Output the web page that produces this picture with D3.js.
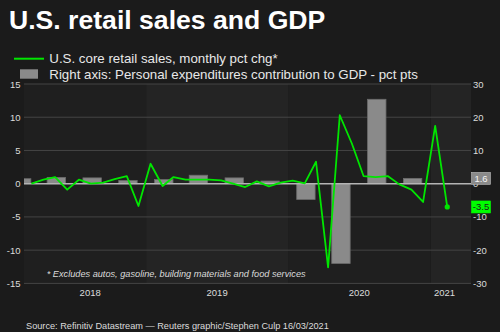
<!DOCTYPE html>
<html>
<head>
<meta charset="utf-8">
<script src="https://cdn.jsdelivr.net/npm/d3@7"></script>
<style>
  body { margin: 0; background: #1b1b1b; }
  svg { display: block; font-family: "Liberation Sans", Arial, sans-serif; }
</style>
</head>
<body>
<script>
// Chart data
var retailMonths = ["2018-03", "2018-04", "2018-05", "2018-06", "2018-07", "2018-08", "2018-09", "2018-10", "2018-11", "2018-12",
  "2019-01", "2019-02", "2019-03", "2019-04", "2019-05", "2019-06", "2019-07", "2019-08", "2019-09", "2019-10", "2019-11", "2019-12",
  "2020-01", "2020-02", "2020-03", "2020-04", "2020-05", "2020-06", "2020-07", "2020-08", "2020-09", "2020-10", "2020-11", "2020-12",
  "2021-01", "2021-02"];
var retailChange = [0.0, 0.6, 1.0, -0.9, 0.6, 0.0, 0.15, 0.7, 1.15, -3.35,
  3.0, -0.35, 1.0, 0.6, 0.6, 0.6, 0.5, 0.0, -0.5, 0.35, -0.4, 0.15,
  0.45, 0.05, 3.3, -12.6, 10.3, 6.05, 1.15, 1.0, 1.15, -0.1, -0.9, -2.75,
  8.7, -3.5];

var gdpQuarters = ["2018-Q1", "2018-Q2", "2018-Q3", "2018-Q4", "2019-Q1", "2019-Q2", "2019-Q3", "2019-Q4",
  "2020-Q1", "2020-Q2", "2020-Q3", "2020-Q4"];
var pceContribution = [1.5, 1.9, 1.75, 0.95, 1.25, 2.55, 1.75, 0.8, -4.75, -24.0, 25.4, 1.6];

var years = [2018, 2019, 2020, 2021];
var yearLabelDates = ["2018-08-10", "2019-07-02", "2020-07-01", "2021-02-05"];
var leftTicks = [15, 10, 5, 0, -5, -10, -15];
var rightTicks = [30, 20, 10, 0, -10, -20, -30];

var titleText = "U.S. retail sales and GDP";
var lineLegend = "U.S. core retail sales, monthly pct chg*";
var barLegend = "Right axis: Personal expenditures contribution to GDP - pct pts";
var footnote = "* Excludes autos, gasoline, building materials and food services";
var sourceText = "Source: Refinitiv Datastream \u2014 Reuters graphic/Stephen Culp 16/03/2021";

// Look
var width = 500, height = 332;
var plotLeft = 24, plotRight = 471, plotTop = 84, plotBottom = 283.4;
var bgColor = "#1b1b1b";
var bandColors = ["#1f1f1f", "#242424"];
var gridColor = "#444444";
var zeroColor = "#b4b4b4";
var lineColor = "#00e600";
var barColor = "#8a8a8a";
var textColor = "#dcdcdc";

var parseDay = d3.utcParse("%Y-%m-%d");

var svg = d3.select("body").append("svg")
  .attr("width", width)
  .attr("height", height);

svg.append("rect").attr("width", width).attr("height", height).attr("fill", bgColor);

var x = d3.scaleUtc()
  .domain([parseDay("2018-02-21"), parseDay("2021-04-14")])
  .range([plotLeft, plotRight]);
var yLeft = d3.scaleLinear().domain([-15, 15]).range([plotBottom, plotTop]);
var yRight = d3.scaleLinear().domain([-30, 30]).range([plotBottom, plotTop]);

svg.append("clipPath").attr("id", "plotclip")
  .append("rect")
  .attr("x", plotLeft).attr("y", plotTop - 5)
  .attr("width", plotRight - plotLeft).attr("height", plotBottom - plotTop + 10);

// year bands
svg.append("g").selectAll("rect")
  .data(years)
  .join("rect")
  .attr("x", function (d) { return Math.max(plotLeft, x(Date.UTC(d, 0, 1))); })
  .attr("width", function (d) {
    var a = Math.max(plotLeft, x(Date.UTC(d, 0, 1)));
    var b = Math.min(plotRight, x(Date.UTC(d + 1, 0, 1)));
    return b - a;
  })
  .attr("y", plotTop)
  .attr("height", plotBottom - plotTop)
  .attr("fill", function (d, i) { return bandColors[i % 2]; });

// grid
svg.append("g").selectAll("line")
  .data(leftTicks.filter(function (d) { return d !== 0; }))
  .join("line")
  .attr("x1", plotLeft).attr("x2", plotRight)
  .attr("y1", function (d) { return yLeft(d); })
  .attr("y2", function (d) { return yLeft(d); })
  .attr("stroke", gridColor)
  .attr("stroke-width", 1);

// left axis
svg.append("g").selectAll("text")
  .data(leftTicks)
  .join("text")
  .attr("x", 20.5)
  .attr("y", function (d) { return yLeft(d) + 3.5; })
  .attr("text-anchor", "end")
  .attr("font-size", 9.5)
  .attr("fill", textColor)
  .text(function (d) { return d; });

// right axis
svg.append("g").selectAll("text")
  .data(rightTicks)
  .join("text")
  .attr("x", 473)
  .attr("y", function (d) { return yRight(d) + 3.5; })
  .attr("font-size", 9.5)
  .attr("fill", textColor)
  .text(function (d) { return d; });

// bars (right axis)
function quarterMid(q) {
  var yr = +q.slice(0, 4), qn = +q.slice(6);
  return Date.UTC(yr, (qn - 1) * 3 + 1, 15);
}
var barWidth = 18.4;
svg.append("g").attr("clip-path", "url(#plotclip)")
  .selectAll("rect")
  .data(gdpQuarters)
  .join("rect")
  .attr("x", function (d) { return x(quarterMid(d)) - barWidth / 2; })
  .attr("width", barWidth)
  .attr("y", function (d, i) { return yRight(Math.max(0, pceContribution[i])); })
  .attr("height", function (d, i) { return Math.abs(yRight(pceContribution[i]) - yRight(0)); })
  .attr("fill", barColor)
  .attr("stroke", "#6c6c6c")
  .attr("stroke-width", 0.8);

// zero line
svg.append("line")
  .attr("x1", plotLeft).attr("x2", plotRight)
  .attr("y1", yLeft(0)).attr("y2", yLeft(0))
  .attr("stroke", zeroColor)
  .attr("stroke-width", 1.5);

// retail line
var monthDate = function (m) { return parseDay(m + "-12"); };
var line = d3.line()
  .x(function (d, i) { return x(monthDate(retailMonths[i])); })
  .y(function (d) { return yLeft(d); });

svg.append("path")
  .attr("clip-path", "url(#plotclip)")
  .attr("d", line(retailChange))
  .attr("fill", "none")
  .attr("stroke", lineColor)
  .attr("stroke-width", 1.8)
  .attr("stroke-linejoin", "round");

var last = retailChange.length - 1;
svg.append("circle")
  .attr("cx", x(monthDate(retailMonths[last])))
  .attr("cy", yLeft(retailChange[last]))
  .attr("r", 2.6)
  .attr("fill", lineColor);

// year labels
svg.append("g").selectAll("text")
  .data(years)
  .join("text")
  .attr("x", function (d, i) { return x(parseDay(yearLabelDates[i])); })
  .attr("y", 295.5)
  .attr("text-anchor", "middle")
  .attr("font-size", 9.5)
  .attr("fill", textColor)
  .text(function (d) { return d; });

// end value labels
function valueTag(yPos, label, fill, color) {
  var g = svg.append("g");
  g.append("rect")
    .attr("x", 471.5).attr("y", yPos - 6)
    .attr("width", 19).attr("height", 12)
    .attr("fill", fill)
    .attr("stroke", fill === barColor ? "#bdbdbd" : fill)
    .attr("stroke-width", 0.6);
  g.append("text")
    .attr("x", 481).attr("y", yPos + 3.5)
    .attr("text-anchor", "middle")
    .attr("font-size", 9.5)
    .attr("fill", color)
    .text(label);
}
valueTag(yRight(pceContribution[pceContribution.length - 1]), pceContribution[pceContribution.length - 1].toFixed(1), barColor, "#f4f4f4");
valueTag(yLeft(retailChange[last]), retailChange[last].toFixed(1), "#00ff00", "#1a1a1a");

// footnote
svg.append("text")
  .attr("x", 46.7).attr("y", 277)
  .attr("font-size", 9.2)
  .attr("font-style", "italic")
  .attr("fill", textColor)
  .text(footnote);

// title and legend
svg.append("text")
  .attr("x", 9).attr("y", 29)
  .attr("font-size", 26.6)
  .attr("font-weight", "bold")
  .attr("fill", "#ffffff")
  .text(titleText);

svg.append("line")
  .attr("x1", 14).attr("x2", 44)
  .attr("y1", 58.7).attr("y2", 58.7)
  .attr("stroke", lineColor)
  .attr("stroke-width", 2);
svg.append("text")
  .attr("x", 49.3).attr("y", 63)
  .attr("font-size", 13.3)
  .attr("fill", "#e8e8e8")
  .text(lineLegend);

svg.append("rect")
  .attr("x", 20).attr("y", 69.3)
  .attr("width", 18).attr("height", 9.4)
  .attr("fill", barColor);
svg.append("text")
  .attr("x", 49.3).attr("y", 78.5)
  .attr("font-size", 13.3)
  .attr("fill", "#e8e8e8")
  .text(barLegend);

// source
svg.append("text")
  .attr("x", 26).attr("y", 328.5)
  .attr("font-size", 9.2)
  .attr("fill", textColor)
  .text(sourceText);
</script>
</body>
</html>
